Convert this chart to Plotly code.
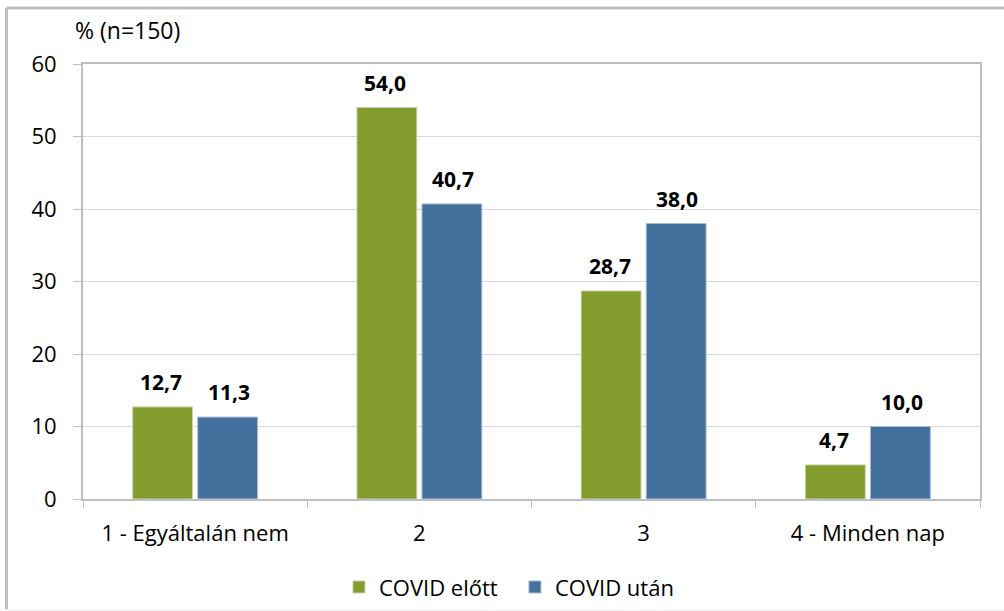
import plotly.graph_objects as go

categories = ["1 - Egyáltalán nem", "2", "3", "4 - Minden nap"]
before = [12.7, 54.0, 28.7, 4.7]
after = [11.3, 40.7, 38.0, 10.0]
series_names = ["COVID előtt", "COVID után"]
y_ticks = [0, 10, 20, 30, 40, 50, 60]

GREEN = "#849B2E"
BLUE = "#44709D"
FONT = "Open Sans"

fig = go.Figure()
fig.add_trace(go.Bar(x=categories, y=before, name=series_names[0],
                     marker=dict(color=GREEN, line=dict(color="#C9D3A6", width=1))))
fig.add_trace(go.Bar(x=categories, y=after, name=series_names[1],
                     marker=dict(color=BLUE, line=dict(color="#A9BCD0", width=1))))

# value labels above each bar
offsets = [-0.152, 0.151]
for s, vals in enumerate([before, after]):
    for i, v in enumerate(vals):
        fig.add_annotation(x=i + offsets[s], y=v, xref="x", yref="y",
                           text=f"{v:.1f}".replace(".", ","),
                           showarrow=False, yanchor="bottom", yshift=9,
                           font=dict(family=FONT, size=21, color="#000000", weight="bold"))

fig.add_annotation(x=-0.0115, y=1.078, xref="paper", yref="paper",
                   text="% (n=150)", showarrow=False, xanchor="left", yanchor="middle",
                   font=dict(family=FONT, size=23, color="#000000"))

# outer frame
fig.add_shape(type="line", xref="paper", yref="paper", x0=-0.0853, x1=-0.0853,
              y0=-0.254, y1=1.1287, line=dict(color="#BFBFBF", width=3))
fig.add_shape(type="line", xref="paper", yref="paper", x0=-0.0853, x1=1.03,
              y0=1.1287, y1=1.1287, line=dict(color="#BFBFBF", width=3))
fig.add_shape(type="line", xref="paper", yref="paper", x0=-0.0853, x1=1.03,
              y0=-0.255, y1=-0.255, line=dict(color="#EEEEEE", width=1))

fig.update_layout(
    width=1004, height=611,
    margin=dict(l=83, r=24, t=64, b=112, autoexpand=False),
    paper_bgcolor="white", plot_bgcolor="white",
    barmode="group", bargap=0.42, bargroupgap=0.08,
    font=dict(family=FONT, size=21, color="#000000"),
    showlegend=True,
    legend=dict(orientation="h", x=0.3376, xanchor="left", xref="container",
                y=0.039, yanchor="middle", yref="container",
                entrywidth=131, entrywidthmode="pixels",
                font=dict(family=FONT, size=22), traceorder="normal"),
    xaxis=dict(type="category", tickson="boundaries", ticks="outside", ticklen=7,
               tickcolor="#BFBFBF", showline=True, linecolor="#BFBFBF", linewidth=2,
               mirror=True, showgrid=False, tickfont=dict(size=22),
               ticklabelstandoff=14, automargin=False),
    yaxis=dict(range=[0, 60], tickvals=y_ticks, ticks="outside", ticklen=8,
               tickcolor="#BFBFBF", showline=True, linecolor="#BFBFBF", linewidth=2,
               mirror=True, gridcolor="#D9D9D9", gridwidth=1, zeroline=False,
               tickfont=dict(size=22), ticklabelstandoff=12, automargin=False),
)

fig.write_html("out.html")
